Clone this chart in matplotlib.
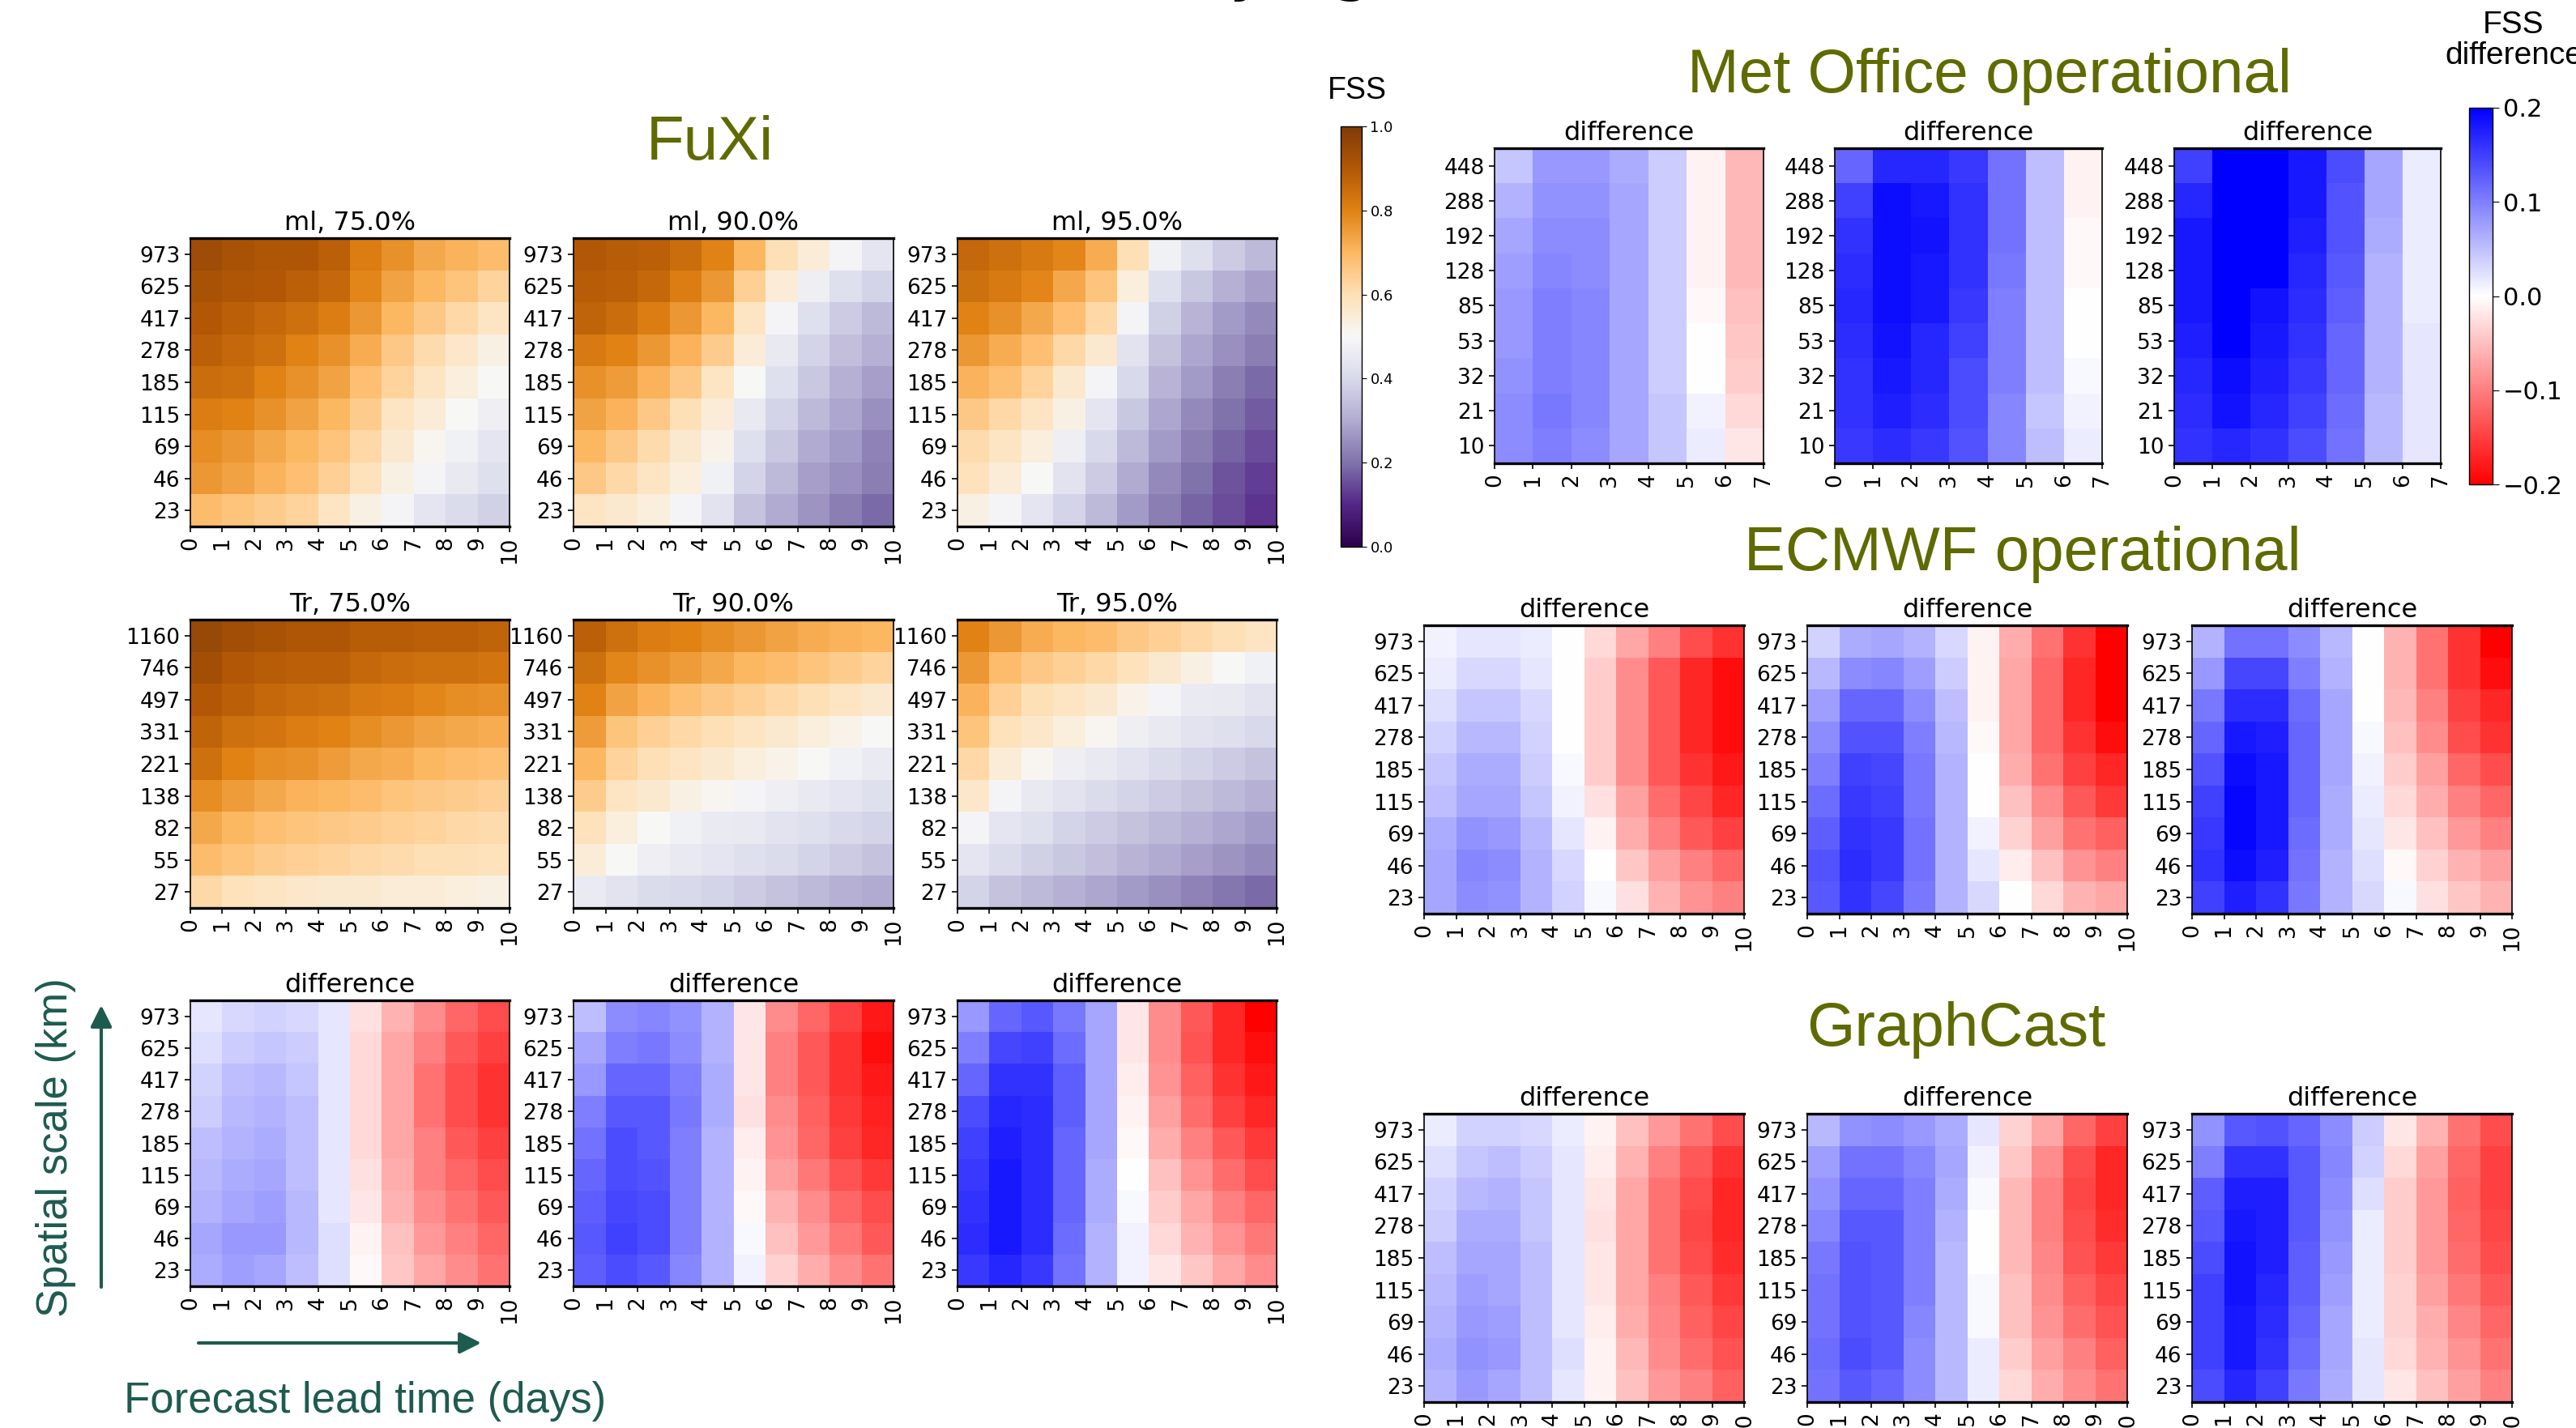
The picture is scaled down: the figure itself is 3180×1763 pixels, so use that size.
import numpy as np
import matplotlib
matplotlib.use("Agg")
import matplotlib.pyplot as plt
from matplotlib.cm import ScalarMappable
from matplotlib.colors import Normalize

W, H = 3180, 1763

# ---------------- data ----------------
ml_scales = ["973", "625", "417", "278", "185", "115", "69", "46", "23"]
tr_scales = ["1160", "746", "497", "331", "221", "138", "82", "55", "27"]
met_scales = ["448", "288", "192", "128", "85", "53", "32", "21", "10"]

fuxi_ml75 = [[0.94, 0.92, 0.91, 0.91, 0.88, 0.81, 0.77, 0.73, 0.71, 0.69],
             [0.92, 0.91, 0.90, 0.88, 0.86, 0.79, 0.74, 0.70, 0.67, 0.63],
             [0.90, 0.88, 0.86, 0.84, 0.81, 0.76, 0.70, 0.66, 0.62, 0.58],
             [0.88, 0.86, 0.84, 0.80, 0.77, 0.72, 0.66, 0.61, 0.57, 0.53],
             [0.85, 0.84, 0.80, 0.77, 0.74, 0.68, 0.63, 0.58, 0.54, 0.50],
             [0.81, 0.80, 0.77, 0.74, 0.70, 0.65, 0.58, 0.55, 0.50, 0.47],
             [0.78, 0.76, 0.73, 0.70, 0.67, 0.62, 0.56, 0.51, 0.48, 0.44],
             [0.76, 0.74, 0.71, 0.68, 0.64, 0.59, 0.53, 0.49, 0.45, 0.42],
             [0.69, 0.67, 0.65, 0.63, 0.58, 0.53, 0.49, 0.44, 0.41, 0.38]]
fuxi_ml90 = [[0.90, 0.89, 0.88, 0.85, 0.80, 0.70, 0.60, 0.55, 0.49, 0.44],
             [0.89, 0.88, 0.86, 0.81, 0.76, 0.64, 0.55, 0.47, 0.42, 0.39],
             [0.87, 0.85, 0.81, 0.76, 0.70, 0.58, 0.49, 0.42, 0.37, 0.33],
             [0.82, 0.80, 0.76, 0.71, 0.65, 0.55, 0.45, 0.39, 0.34, 0.31],
             [0.77, 0.75, 0.71, 0.66, 0.58, 0.50, 0.42, 0.36, 0.31, 0.28],
             [0.74, 0.71, 0.66, 0.60, 0.55, 0.45, 0.39, 0.33, 0.29, 0.25],
             [0.70, 0.66, 0.61, 0.56, 0.52, 0.42, 0.36, 0.30, 0.27, 0.23],
             [0.66, 0.62, 0.58, 0.54, 0.48, 0.39, 0.33, 0.28, 0.25, 0.22],
             [0.58, 0.56, 0.54, 0.49, 0.43, 0.35, 0.30, 0.26, 0.22, 0.19]]
fuxi_ml95 = [[0.86, 0.84, 0.82, 0.79, 0.72, 0.60, 0.48, 0.42, 0.37, 0.33],
             [0.84, 0.82, 0.79, 0.73, 0.67, 0.54, 0.42, 0.36, 0.31, 0.28],
             [0.80, 0.77, 0.73, 0.68, 0.62, 0.49, 0.38, 0.32, 0.27, 0.24],
             [0.76, 0.72, 0.68, 0.62, 0.56, 0.43, 0.35, 0.29, 0.25, 0.22],
             [0.71, 0.68, 0.63, 0.56, 0.49, 0.40, 0.32, 0.27, 0.22, 0.19],
             [0.66, 0.62, 0.58, 0.53, 0.44, 0.36, 0.29, 0.24, 0.20, 0.17],
             [0.61, 0.58, 0.54, 0.47, 0.40, 0.33, 0.27, 0.22, 0.18, 0.15],
             [0.59, 0.55, 0.50, 0.43, 0.37, 0.30, 0.24, 0.20, 0.16, 0.13],
             [0.53, 0.49, 0.44, 0.39, 0.33, 0.27, 0.22, 0.18, 0.15, 0.12]]

fuxi_tr75 = [[0.95, 0.93, 0.92, 0.91, 0.91, 0.89, 0.89, 0.88, 0.88, 0.87],
             [0.93, 0.90, 0.89, 0.88, 0.88, 0.86, 0.85, 0.84, 0.84, 0.83],
             [0.90, 0.88, 0.86, 0.85, 0.84, 0.82, 0.81, 0.79, 0.78, 0.77],
             [0.87, 0.84, 0.83, 0.81, 0.80, 0.78, 0.76, 0.74, 0.73, 0.72],
             [0.84, 0.80, 0.78, 0.77, 0.75, 0.73, 0.72, 0.70, 0.69, 0.68],
             [0.78, 0.75, 0.73, 0.71, 0.70, 0.69, 0.67, 0.66, 0.65, 0.64],
             [0.73, 0.70, 0.68, 0.67, 0.66, 0.65, 0.64, 0.63, 0.62, 0.61],
             [0.69, 0.67, 0.65, 0.64, 0.63, 0.62, 0.61, 0.60, 0.60, 0.59],
             [0.62, 0.59, 0.58, 0.57, 0.56, 0.56, 0.55, 0.55, 0.54, 0.53]]
fuxi_tr90 = [[0.88, 0.84, 0.81, 0.80, 0.78, 0.76, 0.74, 0.72, 0.71, 0.70],
             [0.84, 0.79, 0.77, 0.75, 0.73, 0.70, 0.69, 0.67, 0.65, 0.63],
             [0.80, 0.74, 0.71, 0.68, 0.66, 0.64, 0.62, 0.60, 0.58, 0.56],
             [0.75, 0.67, 0.64, 0.62, 0.60, 0.58, 0.56, 0.54, 0.52, 0.50],
             [0.70, 0.63, 0.60, 0.58, 0.56, 0.54, 0.52, 0.50, 0.48, 0.46],
             [0.65, 0.58, 0.56, 0.53, 0.51, 0.49, 0.47, 0.45, 0.44, 0.42],
             [0.59, 0.54, 0.50, 0.48, 0.46, 0.45, 0.43, 0.42, 0.40, 0.39],
             [0.55, 0.50, 0.47, 0.45, 0.44, 0.42, 0.41, 0.39, 0.37, 0.35],
             [0.46, 0.43, 0.41, 0.40, 0.39, 0.37, 0.35, 0.33, 0.31, 0.30]]
fuxi_tr95 = [[0.80, 0.76, 0.72, 0.70, 0.69, 0.66, 0.64, 0.62, 0.60, 0.58],
             [0.76, 0.69, 0.66, 0.64, 0.62, 0.59, 0.56, 0.53, 0.50, 0.48],
             [0.71, 0.64, 0.60, 0.58, 0.56, 0.52, 0.49, 0.46, 0.45, 0.43],
             [0.67, 0.59, 0.57, 0.54, 0.51, 0.47, 0.45, 0.43, 0.42, 0.40],
             [0.62, 0.55, 0.51, 0.47, 0.45, 0.43, 0.41, 0.39, 0.37, 0.35],
             [0.57, 0.49, 0.45, 0.43, 0.41, 0.39, 0.37, 0.35, 0.33, 0.31],
             [0.49, 0.44, 0.42, 0.39, 0.37, 0.35, 0.33, 0.31, 0.29, 0.27],
             [0.44, 0.41, 0.38, 0.36, 0.34, 0.32, 0.30, 0.28, 0.26, 0.24],
             [0.39, 0.35, 0.33, 0.31, 0.29, 0.27, 0.25, 0.23, 0.21, 0.19]]

fuxi_diff75 = [[0.020, 0.030, 0.035, 0.030, 0.020, -0.025, -0.060, -0.090, -0.120, -0.140],
               [0.025, 0.040, 0.045, 0.040, 0.020, -0.030, -0.070, -0.100, -0.130, -0.150],
               [0.035, 0.050, 0.055, 0.045, 0.020, -0.030, -0.070, -0.110, -0.140, -0.160],
               [0.040, 0.055, 0.060, 0.050, 0.020, -0.030, -0.070, -0.110, -0.140, -0.160],
               [0.050, 0.060, 0.065, 0.050, 0.020, -0.030, -0.070, -0.100, -0.130, -0.150],
               [0.055, 0.065, 0.070, 0.050, 0.020, -0.025, -0.065, -0.100, -0.120, -0.140],
               [0.060, 0.070, 0.075, 0.055, 0.020, -0.020, -0.060, -0.090, -0.110, -0.130],
               [0.070, 0.080, 0.080, 0.055, 0.025, -0.010, -0.050, -0.080, -0.100, -0.120],
               [0.065, 0.075, 0.070, 0.050, 0.025, -0.005, -0.045, -0.070, -0.090, -0.110]]
fuxi_diff90 = [[0.050, 0.090, 0.095, 0.085, 0.060, -0.020, -0.090, -0.120, -0.150, -0.180],
               [0.070, 0.100, 0.105, 0.090, 0.060, -0.020, -0.100, -0.130, -0.160, -0.190],
               [0.080, 0.120, 0.120, 0.100, 0.065, -0.020, -0.100, -0.130, -0.160, -0.180],
               [0.100, 0.130, 0.130, 0.105, 0.065, -0.025, -0.090, -0.125, -0.155, -0.175],
               [0.110, 0.140, 0.130, 0.100, 0.060, -0.015, -0.085, -0.120, -0.150, -0.170],
               [0.120, 0.140, 0.135, 0.100, 0.060, -0.010, -0.075, -0.105, -0.135, -0.155],
               [0.125, 0.145, 0.140, 0.100, 0.060, -0.005, -0.060, -0.090, -0.120, -0.140],
               [0.130, 0.150, 0.140, 0.100, 0.060, 0.005, -0.050, -0.080, -0.105, -0.130],
               [0.125, 0.140, 0.130, 0.095, 0.060, 0.010, -0.035, -0.065, -0.090, -0.110]]
fuxi_diff95 = [[0.080, 0.120, 0.130, 0.105, 0.070, -0.020, -0.090, -0.130, -0.170, -0.200],
               [0.100, 0.145, 0.150, 0.115, 0.070, -0.020, -0.090, -0.135, -0.170, -0.190],
               [0.120, 0.160, 0.160, 0.125, 0.070, -0.015, -0.085, -0.125, -0.160, -0.180],
               [0.140, 0.170, 0.165, 0.125, 0.070, -0.010, -0.075, -0.115, -0.150, -0.170],
               [0.150, 0.175, 0.165, 0.120, 0.070, -0.005, -0.065, -0.100, -0.130, -0.155],
               [0.155, 0.180, 0.165, 0.120, 0.065, 0.000, -0.050, -0.085, -0.115, -0.140],
               [0.160, 0.180, 0.165, 0.120, 0.065, 0.005, -0.040, -0.070, -0.100, -0.120],
               [0.165, 0.180, 0.165, 0.115, 0.060, 0.010, -0.030, -0.060, -0.085, -0.105],
               [0.155, 0.170, 0.155, 0.110, 0.060, 0.010, -0.020, -0.045, -0.070, -0.090]]

met_diff75 = [[0.045, 0.080, 0.080, 0.065, 0.040, -0.010, -0.055],
              [0.060, 0.085, 0.085, 0.070, 0.040, -0.010, -0.055],
              [0.070, 0.090, 0.090, 0.070, 0.040, -0.010, -0.055],
              [0.075, 0.095, 0.090, 0.070, 0.040, -0.010, -0.055],
              [0.080, 0.100, 0.095, 0.070, 0.040, -0.005, -0.050],
              [0.080, 0.100, 0.095, 0.070, 0.040, 0.000, -0.045],
              [0.085, 0.100, 0.095, 0.070, 0.040, 0.000, -0.040],
              [0.090, 0.105, 0.095, 0.070, 0.045, 0.010, -0.030],
              [0.090, 0.100, 0.090, 0.070, 0.045, 0.015, -0.020]]
met_diff90 = [[0.120, 0.170, 0.170, 0.155, 0.110, 0.050, -0.010],
              [0.150, 0.190, 0.180, 0.160, 0.110, 0.050, -0.010],
              [0.160, 0.190, 0.185, 0.160, 0.110, 0.050, -0.005],
              [0.165, 0.190, 0.180, 0.160, 0.105, 0.050, -0.005],
              [0.170, 0.190, 0.180, 0.155, 0.100, 0.050, 0.000],
              [0.165, 0.185, 0.170, 0.150, 0.100, 0.050, 0.000],
              [0.160, 0.180, 0.170, 0.140, 0.100, 0.050, 0.005],
              [0.160, 0.175, 0.165, 0.140, 0.095, 0.045, 0.010],
              [0.155, 0.165, 0.155, 0.135, 0.095, 0.050, 0.015]]
met_diff95 = [[0.150, 0.200, 0.200, 0.180, 0.140, 0.070, 0.015],
              [0.170, 0.200, 0.200, 0.180, 0.135, 0.070, 0.015],
              [0.180, 0.200, 0.200, 0.175, 0.135, 0.065, 0.015],
              [0.180, 0.200, 0.200, 0.170, 0.130, 0.060, 0.015],
              [0.180, 0.200, 0.185, 0.165, 0.125, 0.060, 0.015],
              [0.175, 0.200, 0.180, 0.160, 0.120, 0.060, 0.020],
              [0.170, 0.190, 0.175, 0.155, 0.120, 0.060, 0.020],
              [0.165, 0.185, 0.170, 0.150, 0.115, 0.055, 0.020],
              [0.160, 0.170, 0.160, 0.140, 0.110, 0.055, 0.020]]

ecmwf_diff75 = [[0.010, 0.020, 0.020, 0.015, 0.000, -0.030, -0.070, -0.100, -0.140, -0.160],
                [0.015, 0.030, 0.030, 0.020, 0.000, -0.040, -0.090, -0.130, -0.170, -0.190],
                [0.025, 0.045, 0.045, 0.030, 0.000, -0.040, -0.090, -0.130, -0.170, -0.190],
                [0.035, 0.055, 0.055, 0.035, 0.000, -0.040, -0.090, -0.130, -0.170, -0.190],
                [0.045, 0.065, 0.065, 0.040, 0.005, -0.040, -0.090, -0.130, -0.160, -0.180],
                [0.050, 0.070, 0.070, 0.045, 0.010, -0.025, -0.075, -0.115, -0.145, -0.170],
                [0.065, 0.085, 0.080, 0.055, 0.020, -0.010, -0.065, -0.100, -0.130, -0.150],
                [0.070, 0.095, 0.090, 0.060, 0.030, 0.000, -0.045, -0.075, -0.100, -0.120],
                [0.070, 0.090, 0.085, 0.060, 0.035, 0.005, -0.025, -0.060, -0.085, -0.100]]
ecmwf_diff90 = [[0.035, 0.065, 0.070, 0.060, 0.030, -0.010, -0.065, -0.110, -0.160, -0.200],
                [0.055, 0.090, 0.095, 0.075, 0.040, -0.010, -0.070, -0.120, -0.170, -0.200],
                [0.075, 0.120, 0.120, 0.090, 0.050, -0.010, -0.070, -0.120, -0.170, -0.200],
                [0.090, 0.135, 0.135, 0.100, 0.055, -0.005, -0.070, -0.120, -0.160, -0.190],
                [0.100, 0.150, 0.145, 0.105, 0.060, 0.000, -0.065, -0.110, -0.150, -0.170],
                [0.115, 0.155, 0.150, 0.105, 0.060, 0.000, -0.050, -0.090, -0.130, -0.155],
                [0.125, 0.160, 0.155, 0.110, 0.060, 0.010, -0.035, -0.075, -0.110, -0.125],
                [0.135, 0.165, 0.155, 0.110, 0.060, 0.020, -0.015, -0.050, -0.085, -0.100],
                [0.130, 0.160, 0.145, 0.105, 0.060, 0.030, 0.000, -0.030, -0.060, -0.070]]
ecmwf_diff95 = [[0.060, 0.110, 0.110, 0.090, 0.055, 0.000, -0.060, -0.110, -0.160, -0.200],
                [0.080, 0.145, 0.145, 0.100, 0.060, 0.000, -0.060, -0.110, -0.160, -0.190],
                [0.105, 0.165, 0.165, 0.115, 0.070, 0.000, -0.055, -0.100, -0.150, -0.170],
                [0.120, 0.180, 0.175, 0.120, 0.070, 0.005, -0.050, -0.090, -0.140, -0.160],
                [0.135, 0.190, 0.180, 0.120, 0.070, 0.010, -0.040, -0.075, -0.120, -0.140],
                [0.150, 0.195, 0.180, 0.120, 0.065, 0.015, -0.030, -0.065, -0.100, -0.120],
                [0.155, 0.195, 0.180, 0.115, 0.065, 0.020, -0.020, -0.050, -0.080, -0.100],
                [0.160, 0.190, 0.175, 0.110, 0.060, 0.025, -0.005, -0.035, -0.060, -0.075],
                [0.150, 0.175, 0.160, 0.105, 0.060, 0.030, 0.005, -0.025, -0.045, -0.060]]

graphcast_diff75 = [[0.015, 0.035, 0.035, 0.030, 0.015, -0.010, -0.050, -0.080, -0.110, -0.140],
                    [0.025, 0.045, 0.050, 0.040, 0.020, -0.015, -0.060, -0.100, -0.130, -0.160],
                    [0.035, 0.055, 0.060, 0.045, 0.020, -0.020, -0.070, -0.110, -0.140, -0.170],
                    [0.040, 0.065, 0.065, 0.045, 0.020, -0.025, -0.070, -0.110, -0.145, -0.170],
                    [0.050, 0.070, 0.070, 0.050, 0.020, -0.020, -0.070, -0.110, -0.140, -0.165],
                    [0.055, 0.075, 0.070, 0.050, 0.020, -0.020, -0.070, -0.100, -0.130, -0.155],
                    [0.060, 0.080, 0.075, 0.050, 0.020, -0.015, -0.065, -0.095, -0.125, -0.145],
                    [0.065, 0.085, 0.080, 0.050, 0.025, -0.010, -0.055, -0.090, -0.115, -0.135],
                    [0.060, 0.080, 0.070, 0.050, 0.020, -0.010, -0.050, -0.080, -0.100, -0.125]]
graphcast_diff90 = [[0.055, 0.085, 0.090, 0.080, 0.065, 0.020, -0.035, -0.070, -0.120, -0.150],
                    [0.075, 0.110, 0.110, 0.095, 0.070, 0.010, -0.045, -0.090, -0.140, -0.170],
                    [0.085, 0.120, 0.120, 0.100, 0.065, 0.005, -0.055, -0.100, -0.145, -0.170],
                    [0.095, 0.130, 0.130, 0.100, 0.060, 0.000, -0.055, -0.100, -0.140, -0.165],
                    [0.105, 0.135, 0.130, 0.100, 0.055, 0.000, -0.055, -0.095, -0.135, -0.155],
                    [0.110, 0.135, 0.130, 0.100, 0.055, 0.005, -0.050, -0.090, -0.125, -0.145],
                    [0.110, 0.135, 0.130, 0.095, 0.055, 0.005, -0.050, -0.085, -0.115, -0.135],
                    [0.115, 0.140, 0.130, 0.090, 0.055, 0.015, -0.040, -0.075, -0.100, -0.125],
                    [0.110, 0.130, 0.120, 0.090, 0.055, 0.015, -0.030, -0.065, -0.090, -0.110]]
graphcast_diff95 = [[0.085, 0.130, 0.135, 0.120, 0.090, 0.040, -0.020, -0.060, -0.110, -0.140],
                    [0.100, 0.160, 0.160, 0.130, 0.095, 0.035, -0.030, -0.075, -0.120, -0.150],
                    [0.125, 0.175, 0.175, 0.130, 0.090, 0.025, -0.040, -0.080, -0.125, -0.150],
                    [0.130, 0.180, 0.175, 0.130, 0.085, 0.015, -0.040, -0.080, -0.120, -0.145],
                    [0.140, 0.185, 0.175, 0.125, 0.080, 0.015, -0.040, -0.080, -0.115, -0.140],
                    [0.150, 0.185, 0.170, 0.125, 0.075, 0.015, -0.035, -0.075, -0.105, -0.130],
                    [0.150, 0.180, 0.165, 0.120, 0.070, 0.015, -0.035, -0.065, -0.095, -0.120],
                    [0.150, 0.180, 0.160, 0.115, 0.070, 0.020, -0.030, -0.060, -0.085, -0.110],
                    [0.140, 0.170, 0.150, 0.105, 0.065, 0.020, -0.020, -0.050, -0.075, -0.100]]

thresholds = ["75.0%", "90.0%", "95.0%"]

# ---------------- style ----------------
OLIVE = "#5f6b00"
TEAL = "#1e5b4f"
TITLE_FONT = ["Liberation Sans", "DejaVu Sans"]
TICK_FS = 19
AXTITLE_FS = 23

fig = plt.figure(figsize=(W / 100, H / 100), dpi=100)


def px_box(x0, y0, x1, y1):
    # pixel box (top-left origin) -> figure fraction rect
    return [x0 / W, 1 - y1 / H, (x1 - x0) / W, (y1 - y0) / H]


def ftext(x, y, s, **kw):
    return fig.text(x / W, 1 - y / H, s, **kw)


def heatmap(box, data, labels, title, cmap, vmin, vmax):
    ax = fig.add_axes(px_box(*box))
    data = np.asarray(data)
    nrow, ncol = data.shape
    ax.pcolormesh(np.arange(ncol + 1), np.arange(nrow + 1), data,
                  cmap=cmap, vmin=vmin, vmax=vmax, antialiased=False)
    ax.set_xlim(0, ncol)
    ax.set_ylim(nrow, 0)
    ax.set_xticks(np.arange(ncol + 1))
    ax.set_xticklabels([str(i) for i in range(ncol + 1)], rotation=90)
    ax.set_yticks(np.arange(nrow) + 0.5)
    ax.set_yticklabels(labels)
    ax.tick_params(labelsize=TICK_FS, length=5, width=1.2, pad=4)
    ax.set_title(title, fontsize=AXTITLE_FS, pad=7)
    for side, sp in ax.spines.items():
        sp.set_linewidth(2.4 if side in ("top", "bottom") else 1.2)
    return ax


# ---------------- FuXi block ----------------
fuxi_x = [(235, 629), (708, 1103), (1182, 1576)]
fuxi_rows = [
    ((294, 650), [fuxi_ml75, fuxi_ml90, fuxi_ml95], ml_scales, "ml", "PuOr_r", 0, 1),
    ((765, 1121), [fuxi_tr75, fuxi_tr90, fuxi_tr95], tr_scales, "Tr", "PuOr_r", 0, 1),
    ((1235, 1588), [fuxi_diff75, fuxi_diff90, fuxi_diff95], ml_scales, None, "bwr_r", -0.2, 0.2),
]
for (y0, y1), panels, labels, prefix, cmap, vmin, vmax in fuxi_rows:
    for (x0, x1), data, thr in zip(fuxi_x, panels, thresholds):
        title = "difference" if prefix is None else f"{prefix}, {thr}"
        heatmap((x0, y0, x1, y1), data, labels, title, cmap, vmin, vmax)

# ---------------- other models ----------------
met_x = [(1845, 2177), (2265, 2595), (2684, 3013)]
for (x0, x1), data in zip(met_x, [met_diff75, met_diff90, met_diff95]):
    heatmap((x0, 183, x1, 572), data, met_scales, "difference", "bwr_r", -0.2, 0.2)

right_x = [(1758, 2153), (2231, 2626), (2706, 3101)]
for (x0, x1), data in zip(right_x, [ecmwf_diff75, ecmwf_diff90, ecmwf_diff95]):
    heatmap((x0, 772, x1, 1128), data, ml_scales, "difference", "bwr_r", -0.2, 0.2)
for (x0, x1), data in zip(right_x, [graphcast_diff75, graphcast_diff90, graphcast_diff95]):
    heatmap((x0, 1375, x1, 1731), data, ml_scales, "difference", "bwr_r", -0.2, 0.2)

# ---------------- colorbars ----------------
cax = fig.add_axes(px_box(1655, 156, 1681, 675))
cb = fig.colorbar(ScalarMappable(Normalize(0, 1), "PuOr_r"), cax=cax,
                  ticks=[0.0, 0.2, 0.4, 0.6, 0.8, 1.0])
cb.ax.tick_params(labelsize=13, length=4)
cb.outline.set_linewidth(1.0)
ftext(1675, 122, "FSS", ha="center", va="baseline", fontsize=27, family=TITLE_FONT)

dax = fig.add_axes(px_box(3048, 133, 3077, 598))
db = fig.colorbar(ScalarMappable(Normalize(-0.2, 0.2), "bwr_r"), cax=dax,
                  ticks=[-0.2, -0.1, 0.0, 0.1, 0.2])
db.ax.tick_params(labelsize=22, length=6)
db.outline.set_linewidth(1.0)
ftext(3103, 50, "FSS\ndifference", ha="center", va="center", fontsize=28,
      family=TITLE_FONT, linespacing=1.1)

# ---------------- block titles ----------------
for x, y, s in [(876, 197, "FuXi"), (2456, 114, "Met Office operational"),
                (2497, 704, "ECMWF operational"), (2415, 1291, "GraphCast")]:
    ftext(x, y, s, ha="center", va="baseline", fontsize=55, color=OLIVE, family=TITLE_FONT)

# slide heading, almost entirely cut off by the top edge
ftext(190, -15, "shown for all the same data varying thresholds and scales)", ha="left",
      va="baseline", fontsize=60, family="DejaVu Sans")

# ---------------- axis annotations ----------------
ftext(69, 1417, "Spatial scale (km)", ha="center", va="center", rotation=90,
      fontsize=38, color=TEAL, family=TITLE_FONT)
ftext(451, 1730, "Forecast lead time (days)", ha="center", va="center",
      fontsize=38, color=TEAL, family=TITLE_FONT)
arrow = dict(arrowstyle="-|>", lw=3, color=TEAL, mutation_scale=40, shrinkA=0, shrinkB=0)
fig.add_artist(plt.Annotation("", xy=(125 / W, 1 - 1241 / H), xytext=(125 / W, 1 - 1589 / H),
                              xycoords="figure fraction", textcoords="figure fraction",
                              arrowprops=arrow))
fig.add_artist(plt.Annotation("", xy=(594 / W, 1 - 1658 / H), xytext=(245 / W, 1 - 1658 / H),
                              xycoords="figure fraction", textcoords="figure fraction",
                              arrowprops=arrow))

fig.savefig("out.png", dpi=100)
